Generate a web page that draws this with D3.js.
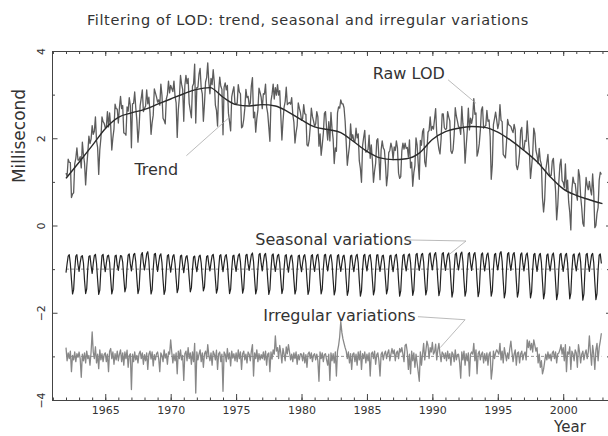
<!DOCTYPE html>
<html><head><meta charset="utf-8">
<script src="https://cdn.jsdelivr.net/npm/d3@7"></script>
<style>body{margin:0;background:#fff}svg{display:block}</style>
</head><body>
<svg id="chart" width="608" height="436"></svg>
<script>
// ---- data (monthly, Jan 1962 .. Dec 2002) ----
const startYear = 1962;
const trendYears = [1962,1963,1964,1965,1966,1967,1968,1969,1970,1971,1972,1973,1974,1975,1976,1977,1978,1979,1980,1981,1982,1983,1984,1985,1986,1987,1988,1989,1990,1991,1992,1993,1994,1995,1996,1997,1998,1999,2000,2001,2002,2003];
const trendValues = [1.08,1.45,1.83,2.22,2.48,2.58,2.66,2.78,2.90,3.02,3.12,3.16,2.94,2.77,2.74,2.77,2.74,2.60,2.42,2.26,2.20,2.13,1.92,1.70,1.55,1.51,1.53,1.66,1.97,2.15,2.23,2.27,2.25,2.14,1.95,1.72,1.46,1.12,0.84,0.69,0.59,0.50];
const rawLOD = [
1.20,1.13,1.52,1.45,1.44,0.64,0.72,0.75,1.41,1.54,1.78,1.50,
1.50,1.58,1.32,1.91,1.62,1.43,0.93,1.34,1.67,2.05,1.88,1.98,
2.29,2.09,2.16,2.49,1.94,1.79,1.17,1.73,2.00,2.49,2.38,2.34,
2.24,2.26,2.61,2.26,2.58,2.28,1.73,2.01,2.21,2.78,2.68,2.67,
2.35,2.70,2.96,2.68,2.75,2.12,2.11,2.07,2.72,2.62,2.93,2.75,
1.78,2.79,2.80,3.06,2.70,2.41,1.91,2.23,2.75,2.92,3.11,2.61,
2.68,2.74,3.11,2.79,2.94,2.60,2.09,2.36,2.53,3.13,3.04,2.95,
2.83,2.88,2.76,3.24,2.99,2.46,2.41,2.33,2.90,3.00,3.31,3.04,
3.21,3.14,3.07,3.31,2.97,2.81,2.02,2.65,2.94,3.44,3.24,3.12,
2.39,3.21,3.44,3.25,3.37,2.80,2.63,2.47,3.19,3.25,3.70,2.35,
3.16,3.17,3.47,3.60,3.15,3.02,2.39,2.79,3.29,3.39,3.73,3.28,
3.02,3.37,3.23,3.57,3.29,2.76,2.64,2.28,3.08,3.40,3.19,3.12,
2.08,3.17,3.27,3.11,3.21,2.57,2.38,2.17,2.95,3.08,3.18,2.78,
2.80,2.80,3.23,3.06,3.02,2.24,2.27,2.43,2.69,3.12,2.93,2.96,
2.76,2.80,3.20,3.39,2.47,2.60,2.14,2.45,2.65,3.15,3.05,2.94,
2.68,3.02,3.01,3.24,2.72,2.57,2.26,1.93,2.85,3.01,3.24,2.90,
3.16,2.99,3.23,2.99,3.09,2.53,1.96,2.39,2.71,2.84,3.17,2.77,
2.80,2.82,2.78,2.93,2.55,2.37,1.89,2.13,2.29,2.81,2.69,2.59,
2.41,2.45,2.77,2.56,2.55,1.85,1.82,1.95,2.26,2.69,2.50,2.40,
2.27,2.33,2.61,2.49,1.82,2.10,1.61,1.84,2.11,2.57,2.61,2.23,
1.96,2.38,1.94,2.59,2.22,1.98,1.42,1.78,1.70,2.58,2.72,2.69,
2.88,2.79,2.79,2.70,2.39,1.90,1.38,1.62,1.83,2.33,1.98,2.08,
1.94,1.92,2.23,2.01,2.10,1.48,1.31,0.99,1.83,2.02,2.18,1.68,
1.71,1.74,2.07,1.54,1.85,1.49,0.99,1.25,1.43,1.95,1.99,1.56,
1.05,1.73,1.94,1.78,1.73,1.41,0.91,1.15,1.67,1.72,1.89,1.78,
1.51,1.80,1.72,1.94,1.78,1.20,1.08,1.12,1.71,1.89,1.75,1.89,
1.77,1.79,1.57,1.96,1.32,1.45,0.90,1.21,1.38,2.01,1.85,1.43,
1.06,1.95,1.84,2.15,2.22,1.46,1.35,1.72,2.14,2.18,2.49,2.18,
2.27,2.21,2.44,2.68,2.12,1.94,1.75,1.64,1.98,2.56,2.56,2.24,
2.20,2.22,2.61,2.49,2.40,1.71,1.65,1.74,2.08,2.70,2.51,2.39,
2.26,2.25,2.09,2.73,2.34,2.11,1.43,1.81,2.17,2.69,2.19,2.46,
2.34,2.48,2.91,2.55,2.58,1.59,1.69,1.87,2.18,2.65,2.72,2.23,
2.27,2.29,2.64,2.39,2.42,2.04,1.06,1.39,2.31,2.45,2.60,2.42,
2.22,2.34,2.77,2.41,2.38,1.63,1.59,1.55,1.91,2.43,2.31,2.29,
2.27,2.19,2.13,2.32,2.19,1.38,1.28,1.40,1.66,2.18,2.25,1.79,
1.73,1.95,1.93,2.40,1.99,1.68,1.08,1.34,1.64,2.23,2.11,1.72,
1.61,1.42,1.77,1.49,1.40,0.63,0.31,0.59,1.26,1.45,1.63,1.21,
1.13,1.15,1.48,1.54,1.14,0.80,0.13,0.46,1.00,1.39,1.52,1.03,
0.99,0.87,1.41,0.81,1.04,0.54,0.31,-0.10,0.84,1.11,0.97,0.96,
0.73,0.58,1.28,1.14,0.67,0.40,0.05,-0.02,0.67,1.10,0.92,0.82,
1.01,0.82,0.70,1.18,0.76,-0.05,0.00,0.28,0.41,1.04,1.22,1.17];
const seasonal = [
-0.08,0.12,0.30,0.33,0.12,-0.24,-0.57,-0.47,-0.02,0.30,0.33,0.10,
-0.05,0.15,0.29,0.31,0.14,-0.26,-0.56,-0.45,0.02,0.29,0.31,0.08,
-0.10,0.13,0.31,0.34,0.13,-0.25,-0.58,-0.48,-0.01,0.31,0.34,0.11,
-0.06,0.14,0.30,0.32,0.15,-0.23,-0.57,-0.46,0.00,0.30,0.32,0.09,
-0.03,0.16,0.31,0.30,0.16,-0.20,-0.52,-0.42,0.03,0.32,0.35,0.12,
-0.04,0.15,0.33,0.36,0.17,-0.22,-0.56,-0.46,0.00,0.33,0.38,0.14,
-0.02,0.17,0.35,0.40,0.19,-0.23,-0.57,-0.47,0.01,0.34,0.36,0.12,
-0.05,0.14,0.31,0.35,0.15,-0.25,-0.58,-0.48,-0.02,0.31,0.33,0.10,
-0.07,0.13,0.30,0.33,0.13,-0.22,-0.54,-0.44,0.01,0.30,0.32,0.09,
-0.08,0.12,0.28,0.31,0.12,-0.21,-0.52,-0.43,0.00,0.28,0.30,0.08,
-0.06,0.13,0.29,0.32,0.14,-0.20,-0.50,-0.41,0.02,0.29,0.31,0.10,
-0.04,0.15,0.31,0.34,0.15,-0.23,-0.55,-0.45,0.01,0.31,0.33,0.11,
-0.06,0.14,0.30,0.33,0.14,-0.24,-0.56,-0.46,0.00,0.30,0.32,0.09,
-0.05,0.15,0.31,0.35,0.16,-0.22,-0.55,-0.44,0.02,0.32,0.34,0.12,
-0.03,0.16,0.33,0.37,0.17,-0.23,-0.57,-0.46,0.01,0.33,0.36,0.13,
-0.04,0.15,0.32,0.36,0.16,-0.24,-0.58,-0.47,0.00,0.32,0.35,0.11,
-0.05,0.14,0.31,0.34,0.15,-0.23,-0.56,-0.45,0.01,0.31,0.33,0.10,
-0.07,0.13,0.29,0.32,0.13,-0.24,-0.57,-0.47,-0.01,0.30,0.32,0.09,
-0.06,0.14,0.30,0.33,0.14,-0.25,-0.58,-0.48,0.00,0.31,0.33,0.10,
-0.05,0.15,0.31,0.34,0.15,-0.24,-0.57,-0.46,0.01,0.32,0.34,0.11,
-0.04,0.14,0.30,0.33,0.14,-0.25,-0.59,-0.48,0.00,0.31,0.33,0.10,
-0.05,0.13,0.29,0.32,0.13,-0.26,-0.60,-0.49,-0.01,0.30,0.32,0.09,
-0.06,0.14,0.30,0.34,0.15,-0.27,-0.62,-0.50,0.00,0.31,0.34,0.11,
-0.04,0.15,0.31,0.33,0.14,-0.25,-0.59,-0.48,0.01,0.32,0.33,0.10,
-0.05,0.13,0.30,0.32,0.13,-0.24,-0.57,-0.46,0.00,0.30,0.32,0.09,
-0.06,0.14,0.31,0.34,0.14,-0.27,-0.62,-0.50,-0.01,0.31,0.34,0.11,
-0.04,0.15,0.32,0.35,0.15,-0.25,-0.60,-0.48,0.01,0.33,0.36,0.13,
-0.03,0.16,0.33,0.36,0.16,-0.25,-0.59,-0.47,0.02,0.34,0.37,0.14,
-0.02,0.17,0.34,0.38,0.17,-0.26,-0.61,-0.49,0.01,0.35,0.38,0.15,
-0.03,0.16,0.33,0.37,0.16,-0.27,-0.64,-0.51,0.00,0.34,0.37,0.13,
-0.02,0.17,0.35,0.39,0.18,-0.26,-0.62,-0.50,0.01,0.35,0.38,0.14,
-0.03,0.16,0.34,0.38,0.17,-0.27,-0.63,-0.51,0.00,0.34,0.37,0.13,
-0.04,0.15,0.33,0.37,0.16,-0.26,-0.62,-0.50,0.01,0.33,0.36,0.12,
-0.02,0.17,0.36,0.40,0.18,-0.28,-0.66,-0.53,0.00,0.35,0.38,0.14,
-0.03,0.16,0.34,0.38,0.17,-0.27,-0.64,-0.52,0.01,0.34,0.37,0.13,
-0.04,0.15,0.33,0.37,0.16,-0.28,-0.66,-0.53,-0.01,0.33,0.36,0.12,
-0.05,0.14,0.32,0.36,0.15,-0.29,-0.68,-0.55,-0.02,0.32,0.35,0.11,
-0.04,0.15,0.33,0.37,0.16,-0.30,-0.70,-0.56,-0.01,0.33,0.36,0.12,
-0.05,0.14,0.32,0.36,0.15,-0.29,-0.68,-0.55,-0.02,0.32,0.35,0.11,
-0.04,0.15,0.33,0.37,0.16,-0.30,-0.71,-0.57,-0.01,0.33,0.36,0.12,
-0.05,0.14,0.32,0.36,0.15,-0.30,-0.70,-0.56,-0.02,0.32,0.35,0.13];
const irregular = [
0.20,-0.10,0.08,-0.05,0.12,-0.35,0.02,-0.08,0.10,-0.12,0.06,-0.02,
0.10,-0.05,-0.48,0.05,-0.10,0.08,-0.15,0.12,-0.05,0.02,-0.20,0.10,
0.56,0.10,-0.05,0.22,-0.15,0.05,-0.28,0.15,-0.08,0.06,-0.12,0.04,
0.08,-0.12,0.05,-0.35,0.12,0.18,-0.05,0.10,-0.18,0.06,-0.08,0.12,
-0.10,0.05,0.15,-0.12,0.08,-0.20,0.10,-0.05,0.14,-0.25,0.02,0.06,
-0.76,0.05,-0.12,0.10,-0.08,0.02,-0.15,0.06,0.12,-0.05,0.08,-0.18,
0.04,-0.10,0.08,-0.30,0.05,0.12,-0.06,0.10,-0.22,0.04,-0.08,0.06,
0.10,-0.05,-0.35,0.08,0.02,-0.12,0.15,-0.04,0.06,-0.18,0.10,0.05,
0.38,0.10,-0.15,0.05,-0.10,0.08,-0.40,0.12,-0.05,0.15,-0.08,0.02,
-0.55,0.06,0.12,-0.10,0.20,-0.05,0.08,-0.18,0.10,-0.12,0.30,-0.84,
0.10,-0.08,0.05,0.15,-0.12,0.08,-0.25,0.06,0.12,-0.05,0.27,0.02,
-0.10,0.08,-0.20,0.12,0.05,-0.08,0.14,-0.30,0.06,0.10,-0.12,0.05,
-0.80,0.10,0.05,-0.12,0.18,-0.06,0.08,-0.22,0.12,-0.04,0.06,-0.10,
0.08,-0.12,0.15,-0.05,0.10,-0.30,0.06,0.12,-0.08,0.05,-0.15,0.10,
0.05,-0.10,0.12,0.27,-0.45,0.08,-0.05,0.15,-0.12,0.06,-0.08,0.04,
-0.05,0.10,-0.08,0.12,-0.20,0.05,0.08,-0.35,0.10,-0.06,0.15,0.05,
0.47,0.12,0.20,-0.05,0.25,0.08,-0.15,0.18,0.05,-0.10,0.22,0.06,
0.27,0.10,-0.08,0.05,-0.12,0.08,-0.05,0.10,-0.18,0.04,-0.08,0.06,
0.05,-0.10,0.08,-0.15,0.04,-0.25,0.06,0.10,-0.05,0.08,-0.12,0.03,
0.06,-0.08,0.05,-0.10,-0.57,0.10,-0.05,0.08,-0.12,0.04,0.06,-0.08,
-0.20,0.05,-0.55,0.08,-0.10,0.06,-0.15,0.10,-0.45,0.12,0.25,0.45,
0.80,0.55,0.40,0.30,0.20,0.12,-0.05,0.10,-0.15,0.06,-0.30,0.05,
0.08,-0.12,0.05,-0.20,0.10,-0.08,0.12,-0.30,0.06,-0.05,0.10,-0.15,
0.05,-0.10,0.08,-0.45,0.06,0.10,-0.05,0.12,-0.18,0.04,0.08,-0.10,
-0.45,0.05,0.10,-0.08,0.06,0.12,-0.05,0.08,0.15,-0.10,0.05,0.18,
0.06,0.15,-0.10,0.08,0.12,-0.05,0.18,0.10,0.20,0.05,-0.12,0.25,
0.28,0.10,-0.30,0.05,-0.40,0.12,-0.10,0.08,-0.25,0.05,-0.15,-0.35,
-0.57,0.10,-0.20,0.05,0.30,-0.08,0.12,0.35,0.25,-0.05,0.20,0.10,
0.32,0.05,0.10,0.28,-0.08,0.15,0.30,0.05,-0.12,0.10,0.06,-0.05,
0.08,-0.10,0.12,-0.05,0.06,-0.20,0.10,0.05,-0.12,0.15,-0.08,0.04,
0.05,-0.15,-0.50,0.10,-0.08,0.12,-0.20,0.06,-0.10,0.08,-0.45,0.05,
0.10,0.05,0.30,-0.10,0.15,-0.40,0.06,0.12,-0.08,0.05,0.10,-0.15,
0.06,-0.10,0.08,-0.20,0.05,0.10,-0.52,-0.30,0.12,-0.05,0.08,0.15,
0.10,0.05,0.30,-0.08,0.12,-0.15,0.20,0.05,-0.10,0.08,-0.05,0.18,
0.35,0.10,-0.12,0.05,0.15,-0.20,0.08,0.10,-0.15,0.06,0.12,-0.08,
0.05,0.10,-0.08,0.38,0.20,0.35,0.15,0.30,0.10,0.38,0.25,0.12,
0.20,-0.15,0.05,-0.25,-0.10,-0.40,-0.30,-0.12,0.05,-0.08,0.10,-0.05,
0.05,-0.10,0.08,0.12,-0.05,0.10,-0.15,0.06,0.08,0.15,0.27,0.05,
0.20,-0.10,0.27,-0.35,0.10,0.05,0.22,-0.30,0.12,0.06,-0.10,0.15,
0.08,-0.25,0.27,0.10,-0.15,0.05,0.12,-0.08,0.06,0.15,-0.05,0.10,
0.47,0.10,-0.20,0.25,0.05,-0.30,0.15,0.30,-0.10,0.20,0.35,0.53];
const seasonalOffset = -1;
const irregularOffset = -3;
const xMajorTicks = [1965,1970,1975,1980,1985,1990,1995,2000];
const xMinorTicks = d3.range(1961,2004);
const yMajorTicks = [-4,-2,0,2,4];
const yMinorTicks = [-3,-1,1,3];
const titleText = "Filtering of LOD: trend, seasonal and irregular variations";
const xLabel = "Year", yLabel = "Millisecond";
const annotations = [
  {text:"Raw LOD", x:1988.2, y:3.36, path:[[1991.2,3.34],[1993.34,2.80]]},
  {text:"Trend", x:1968.9, y:1.16, path:[[1971.2,1.60],[1974.6,2.51]]},
  {text:"Seasonal variations", x:1982.45, y:-0.45, path:[[1987.9,-0.33],[1992.57,-0.355],[1991.35,-0.65]]},
  {text:"Irregular variations", x:1982.9, y:-2.18, path:[[1988.9,-2.09],[1992.5,-2.16],[1990.6,-2.80]]}
];

// ---- drawing ----
const FONT = "DejaVu Sans";
const svg = d3.select("#chart");
const x = d3.scaleLinear().domain([1960.93, 2003.5]).range([52, 609]);
const y = d3.scaleLinear().domain([-4, 4]).range([400, 51]);
const tOf = i => startYear + i / 12;
const axisColor = "#444";

function styleAxis(g){
  g.selectAll("path.domain").attr("stroke", axisColor).attr("stroke-width", 1);
  g.selectAll(".tick line").attr("stroke", axisColor).attr("stroke-width", 1);
  g.selectAll("text").attr("font-family", FONT).attr("fill", "#333");
}

// bottom axis
svg.append("g").attr("transform","translate(0,400)")
  .call(d3.axisBottom(x).tickValues(xMinorTicks).tickSize(-2.5).tickSizeOuter(0).tickFormat(""))
  .call(styleAxis);
svg.append("g").attr("transform","translate(0,400)")
  .call(d3.axisBottom(x).tickValues(xMajorTicks).tickSize(-6).tickSizeOuter(0).tickPadding(6).tickFormat(d3.format("d")))
  .call(styleAxis).call(g=>g.selectAll("text").attr("font-size", 11));
// top axis
svg.append("g").attr("transform","translate(0,51)")
  .call(d3.axisTop(x).tickValues(xMinorTicks).tickSize(-3).tickSizeOuter(0).tickFormat(""))
  .call(styleAxis);
svg.append("g").attr("transform","translate(0,51)")
  .call(d3.axisTop(x).tickValues(xMajorTicks).tickSize(-5).tickSizeOuter(0).tickFormat(""))
  .call(styleAxis);
// left axis
svg.append("g").attr("transform","translate(52,0)")
  .call(d3.axisLeft(y).tickValues(yMinorTicks).tickSize(-3).tickSizeOuter(0).tickFormat(""))
  .call(styleAxis);
svg.append("g").attr("transform","translate(52,0)")
  .call(d3.axisLeft(y).tickValues(yMajorTicks).tickSize(-5.5).tickSizeOuter(0).tickFormat(d3.format("d")))
  .call(styleAxis)
  .call(g=>g.selectAll("text").attr("x",0).attr("dy",0).attr("text-anchor","middle")
      .attr("transform","translate(-7,0) rotate(-90)").attr("font-size", 11));
// right axis
svg.append("g").attr("transform","translate(609,0)")
  .call(d3.axisRight(y).tickValues(yMinorTicks).tickSize(-2).tickSizeOuter(0).tickFormat(""))
  .call(styleAxis);
svg.append("g").attr("transform","translate(609,0)")
  .call(d3.axisRight(y).tickValues(yMajorTicks).tickSize(-3).tickSizeOuter(0).tickFormat(""))
  .call(styleAxis);

// reference lines
const tEnd = tOf(rawLOD.length - 1);
[seasonalOffset, irregularOffset].forEach(o => {
  svg.append("line").attr("x1", x(startYear)).attr("x2", x(tEnd))
    .attr("y1", y(o)).attr("y2", y(o))
    .attr("stroke", "#777").attr("stroke-width", 0.8).attr("stroke-dasharray", "3,2");
});

const monthly = off => d3.line().x((d,i)=>x(tOf(i))).y(d=>y(d + off));
svg.append("path").datum(rawLOD).attr("d", monthly(0))
  .attr("fill","none").attr("stroke","#5c5c5c").attr("stroke-width",1.3).attr("stroke-linejoin","round");
svg.append("path").datum(trendValues)
  .attr("d", d3.line().x((d,i)=>x(trendYears[i])).y(d=>y(d)).curve(d3.curveMonotoneX))
  .attr("fill","none").attr("stroke","#2a2a2a").attr("stroke-width",1.4);
svg.append("path").datum(seasonal).attr("d", monthly(seasonalOffset))
  .attr("fill","none").attr("stroke","#222").attr("stroke-width",1.2).attr("stroke-linejoin","round");
svg.append("path").datum(irregular).attr("d", monthly(irregularOffset))
  .attr("fill","none").attr("stroke","#888").attr("stroke-width",1.3).attr("stroke-linejoin","round");

// annotations
annotations.forEach(a => {
  svg.append("text").attr("x", x(a.x)).attr("y", y(a.y)).attr("text-anchor","middle")
    .attr("font-family", FONT).attr("font-size", 16).attr("fill","#333").text(a.text);
  svg.append("path").datum(a.path)
    .attr("d", d3.line().x(p=>x(p[0])).y(p=>y(p[1])))
    .attr("fill","none").attr("stroke","#aaa").attr("stroke-width",0.8);
});

// titles
svg.append("text").attr("x", 308).attr("y", 25).attr("text-anchor","middle")
  .attr("font-family", FONT).attr("font-size", 14.5).attr("letter-spacing", 0.6).attr("fill","#333").text(titleText);
svg.append("text").attr("transform","translate(25,136) rotate(-90)").attr("text-anchor","middle")
  .attr("font-family", FONT).attr("font-size", 17).attr("fill","#333").text(yLabel);
svg.append("text").attr("x", 570).attr("y", 432.3).attr("text-anchor","middle")
  .attr("font-family", FONT).attr("font-size", 15).attr("fill","#333").text(xLabel);
</script>
</body></html>
